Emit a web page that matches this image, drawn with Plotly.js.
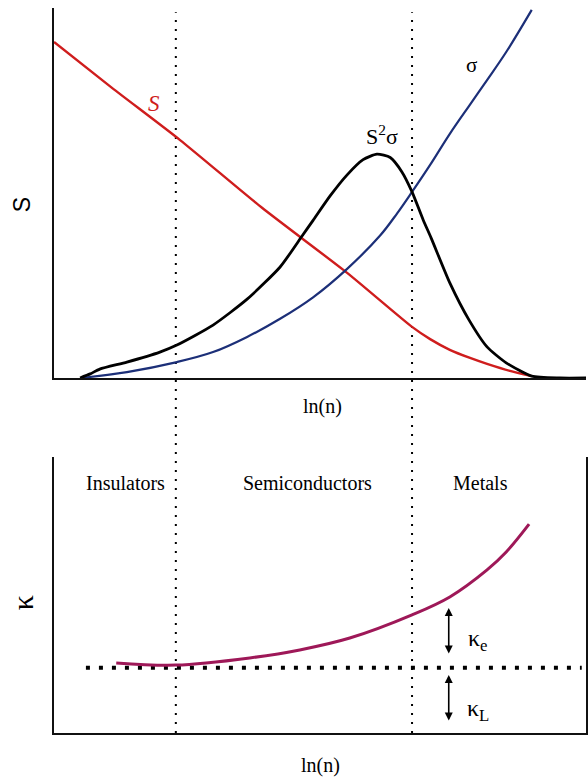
<!DOCTYPE html>
<html>
<head>
<meta charset="utf-8">
<script src="https://cdn.plot.ly/plotly-3.0.1.min.js"></script>
<style>html,body{margin:0;padding:0;background:#fff;}#chart{width:588px;height:782px;}</style>
</head>
<body>
<div id="chart"></div>
<script>
// ---- data (ln(n) in arbitrary units 0..100, quantities in arbitrary units) ----
const seebeckX = [0, 10.9, 23.7, 39.1, 55.1, 67.3, 70.7, 74.4, 78.2, 81.4, 85.7, 89.8];
const seebeckY = [90.8, 78.4, 64.3, 46.0, 28.4, 13.8, 10.5, 7.6, 5.4, 3.8, 1.9, 0.5];

const sigmaX = [5.1, 13.7, 23.1, 29.9, 36.3, 42.5, 48.7, 55.1, 61.3, 64.5, 67.3, 70.7, 74.4, 78.0, 81.4, 85.0, 89.8];
const sigmaY = [0, 1.6, 4.3, 7.0, 11.1, 16.0, 21.8, 29.5, 38.5, 44.5, 50.3, 57.6, 66.0, 73.5, 80.5, 88.1, 99.5];

const pfX = [4.9, 6.8, 8.6, 13.7, 19.9, 23.1, 29.9, 36.3, 42.5, 46.6, 48.7, 51.9, 55.1, 58.1, 60.7, 63.2, 65.4, 67.3, 69.4, 70.9, 74.4, 78.0, 81.4, 85.0, 89.8, 95.1, 100];
const pfY = [0, 1.1, 2.4, 4.3, 7.0, 8.9, 14.3, 21.3, 30.0, 38.3, 42.6, 49.2, 54.9, 59.0, 60.5, 59.6, 55.7, 50.3, 42.7, 37.8, 25.7, 15.7, 8.4, 4.1, 0.5, 0, 0];

const kappaX = [11.7, 22.9, 36.8, 46.2, 55.6, 67.3, 74.4, 81.4, 85.0, 89.3];
const kappaY = [25.4, 24.6, 27.2, 30.1, 34.4, 42.8, 49.3, 59.1, 65.6, 75.7];

const kappaLattice = 23.6;
const kappaLatticeX = [6.0, 99.2];

const regionBounds = [22.9, 67.3];
const regionNames = ["Insulators", "Semiconductors", "Metals"];
const regionLabelX = [13.5, 47.6, 80.1];

const arrowX = 74.2;
const kappaETop = 45.3, kappaEBottom = 28.3;
const kappaLTop = 21.0, kappaLBottom = 4.0;

// ---- traces ----
const serif = "Liberation Serif, Times New Roman, serif";
const sm = {shape: 'spline', smoothing: 0.6};
const smHi = {shape: 'spline', smoothing: 1};
const traces = [
  {x: seebeckX, y: seebeckY, xaxis: 'x', yaxis: 'y', mode: 'lines', line: Object.assign({color: '#cf1d1d', width: 2.4}, sm), hoverinfo: 'skip'},
  {x: sigmaX, y: sigmaY, xaxis: 'x', yaxis: 'y', mode: 'lines', line: Object.assign({color: '#1c2f78', width: 2.2}, smHi), hoverinfo: 'skip'},
  {x: pfX, y: pfY, xaxis: 'x', yaxis: 'y', mode: 'lines', line: Object.assign({color: '#000000', width: 2.8}, sm), hoverinfo: 'skip'},
  {x: kappaLatticeX, y: [kappaLattice, kappaLattice], xaxis: 'x2', yaxis: 'y2', mode: 'lines', line: {color: '#000', width: 4, dash: '4px,9px'}, hoverinfo: 'skip'},
  {x: kappaX, y: kappaY, xaxis: 'x2', yaxis: 'y2', mode: 'lines', line: Object.assign({color: '#9e1858', width: 3}, smHi), hoverinfo: 'skip'}
];

const shapes = regionBounds.map(b => ({
  type: 'line', xref: 'x', yref: 'paper', x0: b, x1: b, y0: 0, y1: 0.994,
  line: {color: '#000', width: 2, dash: '2px,7px'}, layer: 'below'
}));

const mid = {xanchor: 'center', yanchor: 'middle', showarrow: false};
const annotations = [
  Object.assign({xref: 'x', yref: 'y', x: 18.8, y: 74.3, text: '<i>S</i>', font: {family: serif, size: 23, color: '#cf1d1d'}}, mid),
  Object.assign({xref: 'x', yref: 'y', x: 78.4, y: 84.6, text: 'σ', font: {family: serif, size: 21, color: '#000'}}, mid),
  Object.assign({xref: 'x', yref: 'y', x: 61.7, y: 65.7, text: 'S<sup>2</sup>σ', font: {family: serif, size: 22, color: '#000'}}, mid),
  Object.assign({xref: 'paper', yref: 'paper', x: 0.504, y: 0.451, text: 'ln(n)', font: {family: serif, size: 20, color: '#000'}}, mid),
  Object.assign({xref: 'paper', yref: 'paper', x: 0.5, y: -0.0455, text: 'ln(n)', font: {family: serif, size: 20, color: '#000'}}, mid),
  Object.assign({xref: 'paper', yref: 'paper', x: -0.06, y: 0.728, text: 'S', textangle: -90, font: {family: 'Liberation Sans, Arial, sans-serif', size: 23, color: '#000'}}, mid),
  Object.assign({xref: 'paper', yref: 'paper', x: -0.06, y: 0.179, text: 'κ', textangle: -90, font: {family: serif, size: 30, color: '#000'}}, mid),
  Object.assign({xref: 'x2', yref: 'y2', x: 79.7, y: 33.7, text: 'κ<sub>e</sub>', font: {family: serif, size: 24, color: '#000'}}, mid),
  Object.assign({xref: 'x2', yref: 'y2', x: 79.7, y: 8.3, text: 'κ<sub>L</sub>', font: {family: serif, size: 24, color: '#000'}}, mid),
  {xref: 'x2', yref: 'y2', axref: 'x2', ayref: 'y2', x: arrowX, y: kappaETop, ax: arrowX, ay: kappaEBottom, text: '', showarrow: true, arrowhead: 2, startarrowhead: 2, arrowside: 'end+start', arrowsize: 1, startarrowsize: 1, arrowwidth: 1.6, arrowcolor: '#000', standoff: 0, startstandoff: 0},
  {xref: 'x2', yref: 'y2', axref: 'x2', ayref: 'y2', x: arrowX, y: kappaLTop, ax: arrowX, ay: kappaLBottom, text: '', showarrow: true, arrowhead: 2, startarrowhead: 2, arrowside: 'end+start', arrowsize: 1, startarrowsize: 1, arrowwidth: 1.6, arrowcolor: '#000', standoff: 0, startstandoff: 0}
];
regionNames.forEach((n, i) => annotations.push(Object.assign({
  xref: 'x2', yref: 'y2', x: regionLabelX[i], y: 90.6, text: n,
  font: {family: serif, size: 20, color: '#000'}
}, mid)));

const axBase = {showgrid: false, zeroline: false, showticklabels: false, ticks: '', showline: true, linecolor: '#111', linewidth: 2, fixedrange: true};

const layout = {
  width: 588, height: 782,
  margin: {l: 54, r: 2, t: 8, b: 49},
  paper_bgcolor: '#fff', plot_bgcolor: '#fff',
  showlegend: false,
  xaxis: Object.assign({}, axBase, {domain: [0, 1], range: [0, 100], anchor: 'y'}),
  yaxis: Object.assign({}, axBase, {domain: [0.4897, 1], range: [0, 100], anchor: 'x'}),
  xaxis2: Object.assign({}, axBase, {domain: [0, 1], range: [0, 100], anchor: 'y2'}),
  yaxis2: Object.assign({}, axBase, {domain: [0, 0.3807], range: [0, 100], anchor: 'x2', mirror: true}),
  shapes: shapes,
  annotations: annotations
};

Plotly.newPlot('chart', traces, layout, {displayModeBar: false, staticPlot: true});
</script>
</body>
</html>
